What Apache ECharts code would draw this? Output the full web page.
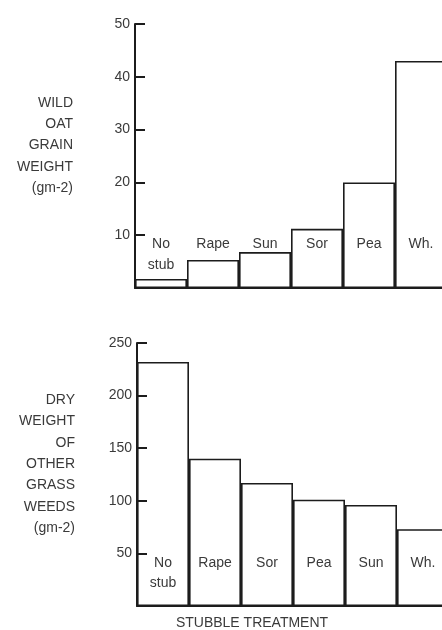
<!DOCTYPE html>
<html>
<head>
<meta charset="utf-8">
<script src="https://cdn.jsdelivr.net/npm/echarts@6/dist/echarts.min.js"></script>
<style>
html,body{margin:0;padding:0;background:#fff;}
#c{width:442px;height:630px;}
</style>
</head>
<body>
<div id="c"></div>
<script>
// Top panel: wild oat grain weight (g m-2)
const oatCategories = ['No\nstub', 'Rape', 'Sun', 'Sor', 'Pea', 'Wh.'];
const oatValues = [1.7, 5.3, 6.8, 11.2, 20, 43];
// Bottom panel: dry weight of other grass weeds (g m-2)
const grassCategories = ['No\nstub', 'Rape', 'Sor', 'Pea', 'Sun', 'Wh.'];
const grassValues = [232, 140, 117, 101, 96, 73];
const oatTitle = ['WILD', 'OAT', 'GRAIN', 'WEIGHT', '(gm-2)'];
const grassTitle = ['DRY', 'WEIGHT', 'OF', 'OTHER', 'GRASS', 'WEEDS', '(gm-2)'];
const xTitle = 'STUBBLE TREATMENT';

const FONT = "'Liberation Sans', Arial, Helvetica, sans-serif";
const INK = '#1c1c1c';
const TXT = '#3a3a3a';

const chart = echarts.init(document.getElementById('c'), null, {renderer: 'canvas'});

function xAxisFor(gridIndex, cats, margin, lh) {
  return {
    type: 'category', gridIndex, data: cats, boundaryGap: true, z: 10,
    axisLine: {show: true, lineStyle: {color: INK, width: 2}},
    axisTick: {show: false},
    axisLabel: {
      inside: true, margin: margin, verticalAlign: 'top', interval: 0,
      hideOverlap: false,
      color: TXT, fontFamily: FONT, fontSize: 14, lineHeight: lh
    },
    splitLine: {show: false}
  };
}
function yAxisFor(gridIndex, max, interval) {
  return {
    type: 'value', gridIndex, min: 0, max, interval, z: 10,
    axisLine: {show: true, lineStyle: {color: INK, width: 2}},
    axisTick: {show: true, inside: true, length: 10, lineStyle: {color: INK, width: 2}},
    axisLabel: {
      margin: 5, color: TXT, fontFamily: FONT, fontSize: 14,
      formatter: v => (v === 0 ? '' : String(v))
    },
    splitLine: {show: false}
  };
}

const barStyle = {color: '#ffffff', borderColor: INK, borderWidth: 1.6};

chart.setOption({
  backgroundColor: '#ffffff',
  animation: false,
  grid: [
    {left: 135, top: 24, width: 312, height: 264, outerBoundsMode: 'none', containLabel: false},
    {left: 137, top: 343, width: 312, height: 263, outerBoundsMode: 'none', containLabel: false}
  ],
  xAxis: [
    xAxisFor(0, oatCategories, 54, 21),
    xAxisFor(1, grassCategories, 53, 20)
  ],
  yAxis: [
    yAxisFor(0, 50, 10),
    yAxisFor(1, 250, 50)
  ],
  series: [
    {type: 'bar', xAxisIndex: 0, yAxisIndex: 0, data: oatValues,
     barWidth: '100%', barCategoryGap: '0%', itemStyle: barStyle},
    {type: 'bar', xAxisIndex: 1, yAxisIndex: 1, data: grassValues,
     barWidth: '100%', barCategoryGap: '0%', itemStyle: barStyle}
  ],
  graphic: [
    {type: 'text', x: 73, y: 145.5,
     style: {text: oatTitle.join('\n'), align: 'right', verticalAlign: 'middle',
              lineHeight: 21.25, fill: TXT, font: '14px ' + FONT}},
    {type: 'text', x: 75, y: 464.2,
     style: {text: grassTitle.join('\n'), align: 'right', verticalAlign: 'middle',
              lineHeight: 21.4, fill: TXT, font: '14px ' + FONT}},
    {type: 'text', x: 252, y: 623,
     style: {text: xTitle, align: 'center', verticalAlign: 'middle',
              fill: TXT, font: '14px ' + FONT}}
  ]
});
</script>
</body>
</html>
